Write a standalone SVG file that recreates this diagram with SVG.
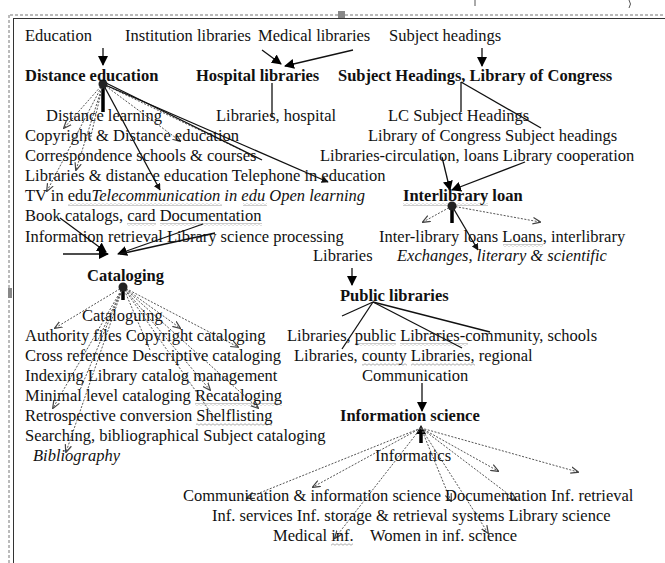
<svg xmlns="http://www.w3.org/2000/svg" width="665" height="563" viewBox="0 0 665 563">
<defs>
<marker id="ah" viewBox="0 0 10 10" refX="9" refY="5" markerWidth="7" markerHeight="7" orient="auto" markerUnits="userSpaceOnUse"><path d="M0,0 L10,5 L0,10 z" fill="#111"/></marker>
<marker id="ahb" viewBox="0 0 10 10" refX="9" refY="5" markerWidth="10" markerHeight="10" orient="auto" markerUnits="userSpaceOnUse"><path d="M0,0 L10,5 L0,10 z" fill="#000"/></marker>
<marker id="ahg" viewBox="0 0 10 10" refX="9" refY="5" markerWidth="8" markerHeight="8" orient="auto" markerUnits="userSpaceOnUse"><path d="M0,1 L10,5 L0,9" fill="none" stroke="#444" stroke-width="1.5"/></marker>
<pattern id="wave" patternUnits="userSpaceOnUse" width="4" height="3"><path d="M0,1.5 Q1,0 2,1.5 T4,1.5" stroke="#999" stroke-width="0.8" fill="none"/></pattern>
</defs>
<style>
text{font-family:"Liberation Serif","Times New Roman",serif;font-size:16.5px;fill:#111}
.b{font-weight:bold}
.i{font-style:italic}
.s{stroke:#111;stroke-width:1.3;fill:none}
.t{stroke:#000;stroke-width:3.5;fill:none}
.d{stroke:#555;stroke-width:1;stroke-dasharray:2 1.5;fill:none}
.hub{fill:#222}
.wv{fill:url(#wave)}
</style>
<rect width="665" height="563" fill="#fff"/>
<g id="frame">
<line x1="10" y1="15" x2="665" y2="15" stroke="#777" stroke-width="1" stroke-dasharray="3 2"/>
<line x1="13" y1="18.5" x2="665" y2="18.5" stroke="#333" stroke-width="1"/>
<line x1="9" y1="15" x2="9" y2="563" stroke="#777" stroke-width="1" stroke-dasharray="3 2"/>
<line x1="13.5" y1="18" x2="13.5" y2="563" stroke="#333" stroke-width="1"/>
<rect x="338" y="11" width="7" height="7" fill="#888"/>
<rect x="8" y="288" width="4" height="10" fill="#888"/>
<line x1="475" y1="0" x2="475" y2="6" stroke="#555" stroke-width="1"/>
<path d="M629,0 q3,4 0,8" stroke="#555" fill="none"/>
</g>
<g id="spellmarks">
<rect class="wv" x="68" y="203" width="24" height="3"/>
<rect class="wv" x="92" y="203" width="130" height="3"/>
<rect class="wv" x="243" y="203" width="24" height="3"/>
<rect class="wv" x="127" y="223" width="29" height="3"/>
<rect class="wv" x="160" y="223" width="102" height="3"/>
<rect class="wv" x="403" y="203" width="85" height="3"/>
<rect class="wv" x="503" y="244" width="40" height="3"/>
<rect class="wv" x="195" y="403" width="87" height="3"/>
<rect class="wv" x="196" y="423" width="76" height="3"/>
<rect class="wv" x="355" y="343" width="41" height="3"/>
<rect class="wv" x="400" y="343" width="68" height="3"/>
<rect class="wv" x="362" y="363" width="45" height="3"/>
<rect class="wv" x="411" y="363" width="64" height="3"/>
<rect class="wv" x="331" y="543" width="22" height="3"/>
</g>
<g id="connectors">
<line class="s" x1="103" y1="48" x2="103" y2="65" marker-end="url(#ahb)"/>
<line class="s" x1="262" y1="50" x2="281" y2="64" marker-end="url(#ahb)"/>
<line class="s" x1="353" y1="50" x2="285" y2="66" marker-end="url(#ahb)"/>
<line class="s" x1="482" y1="48" x2="482" y2="66" marker-end="url(#ahb)"/>
<line class="t" x1="103" y1="84" x2="103" y2="112"/>
<line class="d" x1="103" y1="84" x2="64" y2="128" marker-end="url(#ahg)"/>
<line class="d" x1="103" y1="84" x2="47" y2="191" marker-end="url(#ahg)"/>
<line class="d" x1="103" y1="84" x2="76" y2="170" marker-end="url(#ahg)"/>
<line class="d" x1="103" y1="84" x2="90" y2="140"/>
<line class="s" x1="103" y1="84" x2="160" y2="190" marker-end="url(#ah)"/>
<line class="d" x1="103" y1="84" x2="180" y2="141" marker-end="url(#ahg)"/>
<line class="d" x1="103" y1="84" x2="258" y2="158"/>
<line class="s" x1="103" y1="84" x2="328" y2="182" marker-end="url(#ah)"/>
<line class="s" x1="106" y1="83" x2="262" y2="160"/>
<circle class="hub" cx="103" cy="84" r="4.5"/>
<line class="s" x1="272" y1="83" x2="272" y2="118" stroke-width="1"/>
<line class="s" x1="461" y1="82" x2="461" y2="112" stroke-width="2"/>
<line class="s" x1="461" y1="82" x2="541" y2="128" stroke-width="2"/>
<line class="s" x1="442" y1="157" x2="450" y2="190" marker-end="url(#ahb)"/>
<line class="s" x1="525" y1="162" x2="452" y2="190" marker-end="url(#ahb)"/>
<line class="t" x1="452" y1="206" x2="452" y2="223"/>
<line class="d" x1="452" y1="206" x2="423" y2="222" marker-end="url(#ahg)"/>
<line class="d" x1="452" y1="206" x2="540" y2="222" marker-end="url(#ahg)"/>
<line class="s" x1="452" y1="206" x2="478" y2="250" marker-end="url(#ah)"/>
<circle class="hub" cx="452" cy="206" r="4.5"/>
<line class="s" x1="63" y1="254" x2="108" y2="254" marker-end="url(#ahb)"/>
<line class="s" x1="60" y1="218" x2="106" y2="252" marker-end="url(#ahb)"/>
<line class="s" x1="203" y1="224" x2="118" y2="254" marker-end="url(#ahb)"/>
<line class="s" x1="215" y1="233" x2="120" y2="254"/>
<line class="t" x1="123" y1="287" x2="123" y2="300"/>
<line class="d" x1="123" y1="287" x2="55" y2="328" marker-end="url(#ahg)"/>
<line class="d" x1="123" y1="287" x2="53" y2="408" marker-end="url(#ahg)"/>
<line class="d" x1="123" y1="287" x2="66" y2="452" marker-end="url(#ahg)"/>
<line class="d" x1="123" y1="287" x2="80" y2="390"/>
<line class="d" x1="123" y1="287" x2="98" y2="340"/>
<line class="d" x1="123" y1="287" x2="180" y2="328" marker-end="url(#ahg)"/>
<line class="d" x1="123" y1="287" x2="238" y2="347" marker-end="url(#ahg)"/>
<line class="d" x1="123" y1="287" x2="210" y2="390" marker-end="url(#ahg)"/>
<line class="d" x1="123" y1="287" x2="258" y2="408" marker-end="url(#ahg)"/>
<line class="d" x1="123" y1="287" x2="216" y2="420"/>
<line class="d" x1="123" y1="287" x2="150" y2="350"/>
<circle class="hub" cx="123" cy="287" r="4.5"/>
<line class="s" x1="352" y1="268" x2="352" y2="285" marker-end="url(#ahb)"/>
<line class="s" x1="373" y1="302" x2="342" y2="316" stroke-width="1"/>
<line class="s" x1="373" y1="302" x2="342" y2="349" stroke-width="1"/>
<line class="s" x1="373" y1="302" x2="462" y2="348" stroke-width="1"/>
<line class="s" x1="373" y1="302" x2="490" y2="332" stroke-width="1"/>
<line class="s" x1="422" y1="383" x2="422" y2="411" marker-end="url(#ahb)"/>
<line class="t" x1="421" y1="433" x2="421" y2="443"/>
<path d="M416,434 L421,425 L426,434 z" fill="#000"/>
<line class="d" x1="421" y1="428" x2="247" y2="498" marker-end="url(#ahg)"/>
<line class="d" x1="421" y1="428" x2="313" y2="487" marker-end="url(#ahg)"/>
<line class="d" x1="421" y1="428" x2="335" y2="538" marker-end="url(#ahg)"/>
<line class="d" x1="421" y1="428" x2="451" y2="501" marker-end="url(#ahg)"/>
<line class="d" x1="421" y1="428" x2="488" y2="533" marker-end="url(#ahg)"/>
<line class="d" x1="421" y1="428" x2="498" y2="471" marker-end="url(#ahg)"/>
<line class="d" x1="421" y1="428" x2="516" y2="500" marker-end="url(#ahg)"/>
<line class="d" x1="421" y1="428" x2="578" y2="472" marker-end="url(#ahg)"/>
</g>
<g id="n-education"><text x="25" y="41">Education</text></g>
<g id="n-institution"><text x="125" y="41">Institution libraries</text></g>
<g id="n-medical"><text x="258" y="41">Medical libraries</text></g>
<g id="n-subject"><text x="389" y="41">Subject headings</text></g>
<g id="n-distance"><text class="b" x="25" y="81">Distance education</text></g>
<g id="n-hospital"><text class="b" x="196" y="81">Hospital libraries</text></g>
<g id="n-lcsh"><text class="b" x="338" y="81">Subject Headings, Library of Congress</text></g>
<g id="n-distance-terms">
<text x="46" y="121">Distance learning</text>
<text x="25" y="141">Copyright &amp; Distance education</text>
<text x="25" y="161">Correspondence schools &amp; courses</text>
<text x="25" y="181">Libraries &amp; distance education Telephone in education</text>
<text x="25" y="201">TV in edu<tspan class="i">Telecommunication in edu Open learning</tspan></text>
<text x="25" y="221">Book catalogs, card Documentation</text>
<text x="25" y="242">Information retrieval Library science processing</text>
</g>
<g id="n-hospital-terms"><text x="216" y="121">Libraries, hospital</text></g>
<g id="n-lcsh-terms">
<text x="388" y="121">LC Subject Headings</text>
<text x="368" y="141">Library of Congress Subject headings</text>
</g>
<g id="n-circ"><text x="320" y="161">Libraries-circulation, loans Library cooperation</text></g>
<g id="n-interlibrary"><text class="b" x="403" y="201">Interlibrary loan</text></g>
<g id="n-interlibrary-terms">
<text x="379" y="242">Inter-library loans Loans, interlibrary</text>
<text class="i" x="397" y="261">Exchanges, literary &amp; scientific</text>
</g>
<g id="n-libraries"><text x="313" y="261">Libraries</text></g>
<g id="n-cataloging"><text class="b" x="87" y="281">Cataloging</text></g>
<g id="n-cataloging-terms">
<text x="82" y="321">Cataloguing</text>
<text x="25" y="341">Authority files Copyright cataloging</text>
<text x="25" y="361">Cross reference Descriptive cataloging</text>
<text x="25" y="381">Indexing Library catalog management</text>
<text x="25" y="401">Minimal level cataloging Recataloging</text>
<text x="25" y="421">Retrospective conversion Shelflisting</text>
<text x="25" y="441">Searching, bibliographical Subject cataloging</text>
<text class="i" x="33" y="461">Bibliography</text>
</g>
<g id="n-public"><text class="b" x="340" y="301">Public libraries</text></g>
<g id="n-public-terms">
<text x="287" y="341">Libraries, public Libraries-community, schools</text>
<text x="294" y="361">Libraries, county Libraries, regional</text>
</g>
<g id="n-communication"><text x="362" y="381">Communication</text></g>
<g id="n-infosci"><text class="b" x="340" y="421">Information science</text></g>
<g id="n-infosci-terms">
<text x="375" y="461">Informatics</text>
<text x="183" y="501">Communication &amp; information science Documentation Inf. retrieval</text>
<text x="212" y="521">Inf. services Inf. storage &amp; retrieval systems Library science</text>
<text x="273" y="541">Medical inf.<tspan x="370">Women in inf. science</tspan></text>
</g>
</svg>
